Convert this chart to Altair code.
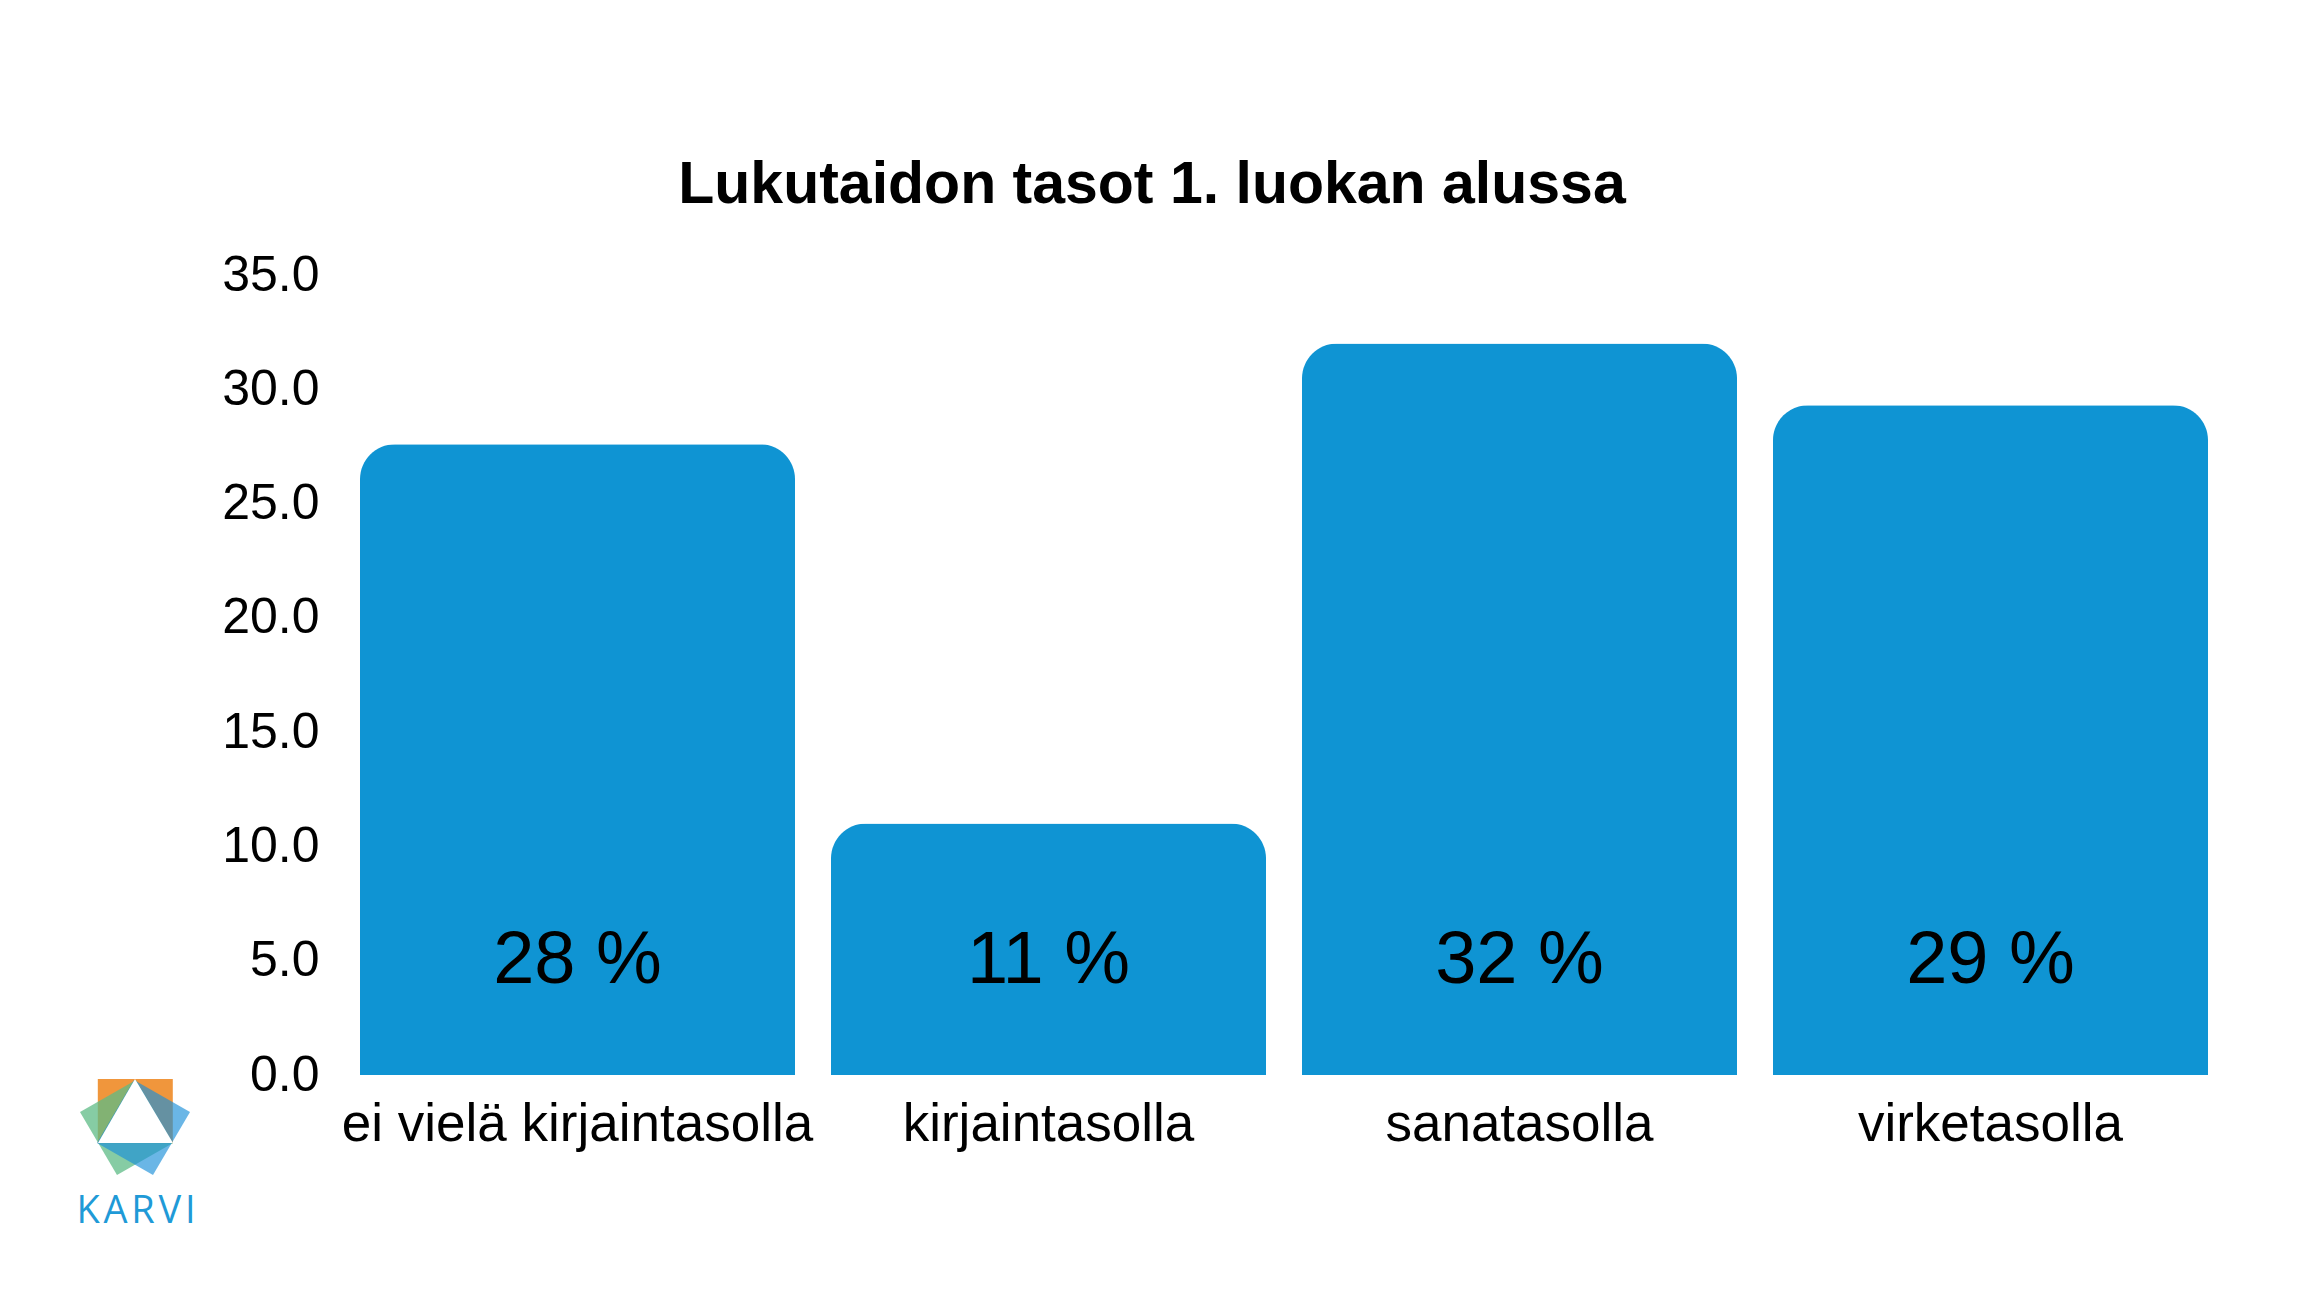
import altair as alt
import pandas as pd

# ---- data ----
categories = ["ei vielä kirjaintasolla", "kirjaintasolla", "sanatasolla", "virketasolla"]
values = [27.6, 11.0, 32.0, 29.3]
labels = [f"{round(v)} %" for v in values]
title_text = "Lukutaidon tasot 1. luokan alussa"
y_ticks = [0, 5, 10, 15, 20, 25, 30, 35]

df = pd.DataFrame({"taso": categories, "arvo": values, "label": labels})
one = pd.DataFrame({"k": [0]})

BAR = "#0f94d3"
FONT = "Liberation Sans"

x_enc = alt.X(
    "taso:N",
    sort=categories,
    title=None,
    scale=alt.Scale(paddingInner=0.0764, paddingOuter=0),
    axis=alt.Axis(
        labelAngle=0, labelFont=FONT, labelFontSize=53, labelColor="#000000",
        labelPadding=23, ticks=False, tickSize=0, domain=False, labelLimit=0,
    ),
)
y_enc = alt.Y(
    "arvo:Q",
    title=None,
    scale=alt.Scale(domain=[0, 35], nice=False),
    axis=alt.Axis(
        values=y_ticks, format=".1f", labelFont=FONT, labelFontSize=50,
        labelColor="#000000", labelPadding=41, ticks=False, tickSize=0,
        domain=False, grid=False,
    ),
)

bars = alt.Chart(df).mark_bar(
    color=BAR, cornerRadiusTopLeft=35, cornerRadiusTopRight=35
).encode(x=x_enc, y=y_enc)

texts = alt.Chart(df).mark_text(
    font=FONT, fontSize=74, color="#000000", baseline="alphabetic", align="center"
).encode(
    x=alt.X("taso:N", sort=categories),
    y=alt.value(708),
    text="label:N",
)

title = alt.Chart(one).mark_text(
    text=title_text, font=FONT, fontWeight="bold", fontSize=59,
    color="#000000", align="center", baseline="alphabetic",
).encode(x=alt.value(792), y=alt.value(-72))

# ---- KARVI logo (decoration) ----
LX, LY, LS = -225, 852, 14400
orange_path = "M-0.62,-0.8L0.63,-0.8L0.63,0.27L-0.62,0.27Z"
green_path = "M-0.917,-0.25L-0.3,0.8L0.633,0.267L0.017,-0.783Z"
blue_path = "M0.917,-0.25L0.3,0.8L-0.633,0.267L-0.017,-0.783Z"
white_path = "M0,-0.8L-0.617,0.267L0.633,0.267Z"

def logo_piece(path, color, opacity):
    return alt.Chart(one).mark_point(
        shape=path, filled=True, color=color, opacity=opacity, size=LS, strokeWidth=0
    ).encode(x=alt.value(LX), y=alt.value(LY))

logo = (
    logo_piece(orange_path, "#f0963c", 1.0)
    + logo_piece(green_path, "#5dbb86", 0.75)
    + logo_piece(blue_path, "#1a8fd8", 0.65)
    + logo_piece(white_path, "#ffffff", 1.0)
)
karvi = alt.Chart(one).mark_text(
    text="K\u200aA\u200aR\u200aV\u200aI", font="Open Sans", fontSize=38, color="#1f9ad7",
    align="center", baseline="alphabetic",
).encode(x=alt.value(-224), y=alt.value(948))

chart = alt.layer(bars, texts, title, logo, karvi).properties(
    width=1848, height=800,
    background="#ffffff",
    autosize=alt.AutoSizeParams(type="none"),
    padding={"left": 352, "top": 267, "right": 85, "bottom": 200},
).configure_view(strokeWidth=0, stroke="transparent")

chart.save("out.html", embed_options={"renderer": "svg", "actions": False})
